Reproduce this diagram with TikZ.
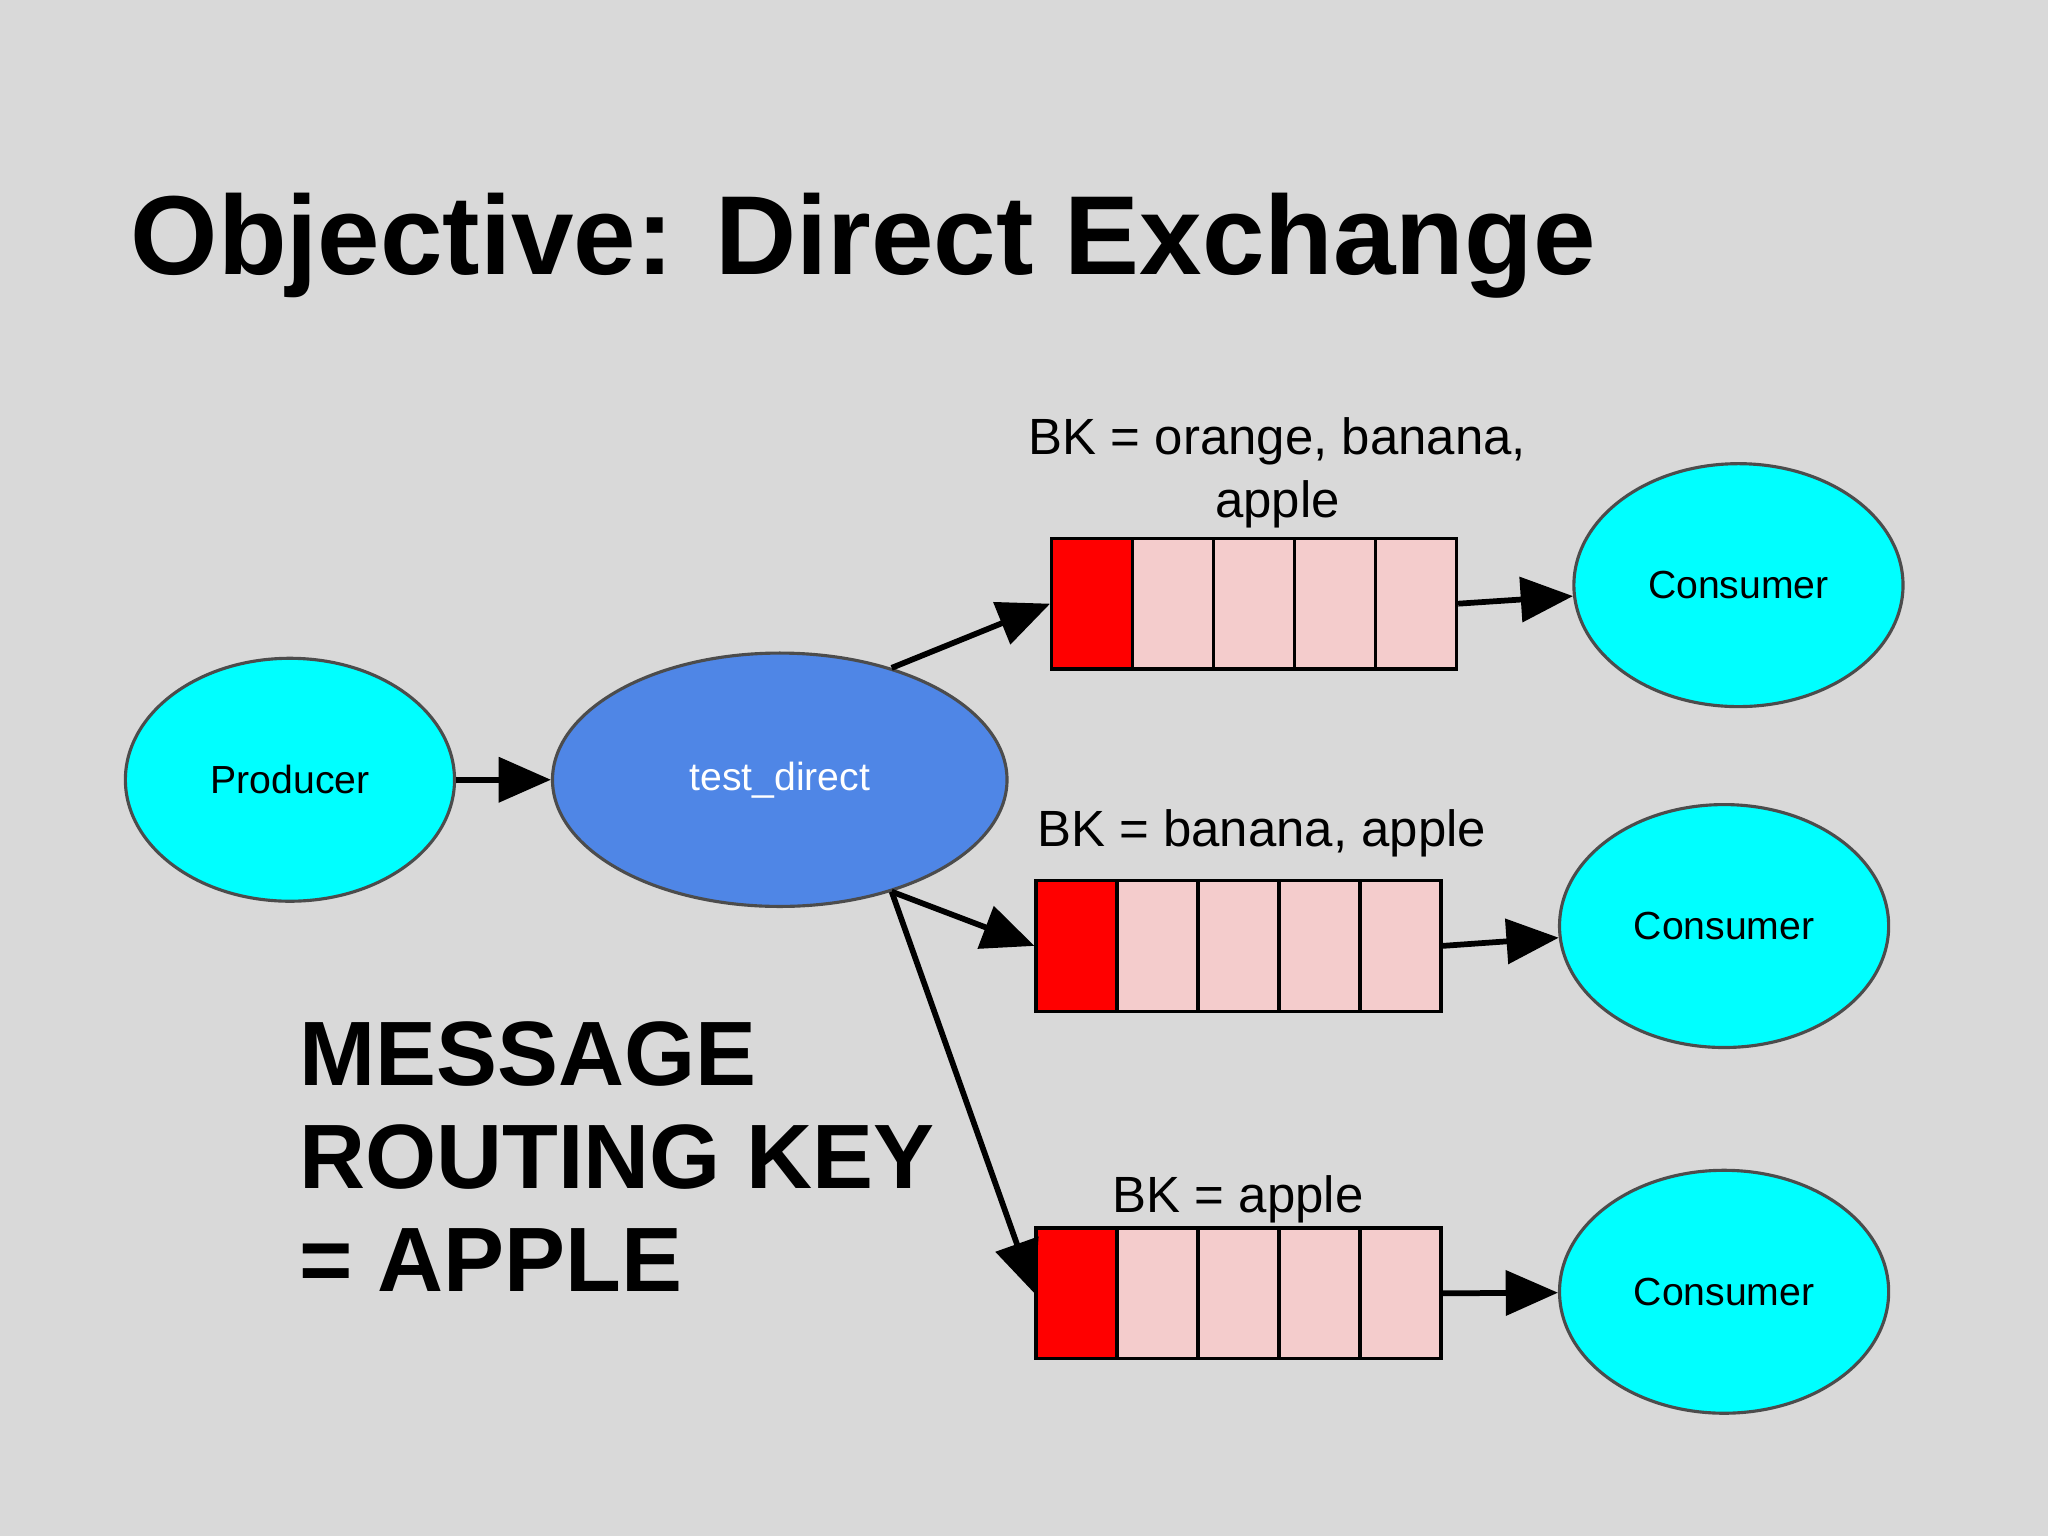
\documentclass[tikz,border=0pt]{standalone}
\usepackage{fontspec}
\setmainfont{Liberation Sans}
\usetikzlibrary{arrows.meta,shapes.geometric}
\definecolor{bg}{HTML}{D9D9D9}
\definecolor{cy}{HTML}{00FFFF}
\definecolor{ex}{HTML}{4F86E6}
\definecolor{pk}{HTML}{F4CCCC}
\begin{document}
\begin{tikzpicture}[x=0.5pt,y=-0.5pt,
 ell/.style={ellipse,draw=black!70,line width=1.2pt,fill=cy,inner sep=0,font=\fontsize{15}{18}\selectfont},
 arr/.style={line width=2.2pt,-{Triangle[length=20pt,width=17pt]}},
 cell/.style={draw=black,line width=1.2pt,fill=pk,minimum width=31pt,minimum height=50pt,inner sep=0,anchor=north west},
 red/.style={cell,fill=red},
 lbl/.style={font=\fontsize{19.5}{24}\selectfont,align=center}]
\fill[bg] (0,0) rectangle (1568,1176);
\useasboundingbox (0,0) rectangle (1568,1176);
\node[anchor=base west,font=\fontsize{43}{50}\selectfont\bfseries] (title) at (93,210) {Objective: Direct Exchange};
\node[ell,minimum width=126pt,minimum height=93pt] (prod) at (222,597) {Producer};
\node[ell,fill=ex,text=white,minimum width=174pt,minimum height=97pt] (exch) at (597,597) {test\_direct};
% queues
\foreach \q/\x/\y in {1/804/411,2/792/673,3/792/939}{
  \node[red] (q\q a) at (\x,\y) {};
  \node[cell] (q\q b) at (\x+62,\y) {};
  \node[cell] (q\q c) at (\x+124,\y) {};
  \node[cell] (q\q d) at (\x+186,\y) {};
  \node[cell] (q\q e) at (\x+248,\y) {};
}
\node[ell,minimum width=126pt,minimum height=93pt] (c1) at (1331,448) {Consumer};
\node[ell,minimum width=126pt,minimum height=93pt] (c2) at (1320,709) {Consumer};
\node[ell,minimum width=126pt,minimum height=93pt] (c3) at (1320,989) {Consumer};
\node[lbl] (l1) at (978,362) {BK = orange, banana,\\apple};
\node[lbl,anchor=base] (l2) at (966,648) {BK = banana, apple};
\node[lbl,anchor=base] (l3) at (948,928) {BK = apple};
\node[anchor=north west,align=left,font=\fontsize{35}{39.5}\selectfont\bfseries] (msg) at (222,775) {MESSAGE\\ROUTING KEY\\= APPLE};
\draw[arr] (prod) -- (exch);
\draw[arr] (exch.45) -- (q1a.west);
\draw[arr] (exch.-45) -- (q2a.west);
\draw[arr] (exch.-45) -- (q3a.west);
\draw[arr] (q1e.east) -- (c1);
\draw[arr] (q2e.east) -- (c2);
\draw[arr] (q3e.east) -- (c3);
\end{tikzpicture}
\end{document}
